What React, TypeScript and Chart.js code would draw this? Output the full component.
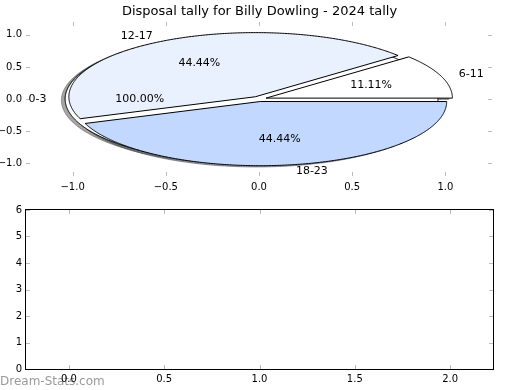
import { useEffect, useRef } from 'react';
import { Chart, registerables } from 'chart.js';

Chart.register(...registerables);

const chartTitle = 'Disposal tally for Billy Dowling - 2024 tally';
// first pie layer (drawn underneath)
const baseLabels = ['0-3'];
const baseValues = [1];
const baseColors = ['#ffffff'];
const baseExplode = [0.04];
// second pie layer
const sliceLabels = ['6-11', '12-17', '18-23'];
const sliceValues = [1, 4, 4];
const sliceColors = ['#ffffff', '#e9f0fe', '#c3d8fe'];
const sliceExplode = [0.04, 0.04, 0.04];

const pieXTicks = [-1, -0.5, 0, 0.5, 1];
const pieYTicks = [-1, -0.5, 0, 0.5, 1];
const lowerXTicks = [0, 0.5, 1, 1.5, 2];
const lowerYTicks = [0, 1, 2, 3, 4, 5, 6];
const watermark = 'Dream-Stats.com';

const FONT = 'DejaVu Sans';
const TICK_COLOR = '#bcbcbc';

type Wedge = {
  t1: number; t2: number; cx: number; cy: number; mid: number;
  color: string; label: string; pct: string;
};

function buildWedges(values: number[], explode: number[], colors: string[], labels: string[]): Wedge[] {
  const total = values.reduce((a, b) => a + b, 0);
  let theta = 0;
  return values.map((v, i) => {
    const frac = v / total;
    const t1 = theta;
    const t2 = theta + 360 * frac;
    theta = t2;
    const mid = ((t1 + t2) / 2) * Math.PI / 180;
    const e = explode[i];
    return {
      t1, t2, mid,
      cx: e * Math.cos(mid), cy: e * Math.sin(mid),
      color: colors[i], label: labels[i],
      pct: (100 * frac).toFixed(2) + '%',
    };
  });
}

function shadowColor(hex: string) {
  const h = hex.replace('#', '');
  const r = parseInt(h.slice(0, 2), 16), g = parseInt(h.slice(2, 4), 16), b = parseInt(h.slice(4, 6), 16);
  return `rgba(${Math.round(r * 0.3)},${Math.round(g * 0.3)},${Math.round(b * 0.3)},0.5)`;
}

function tracePath(ctx: CanvasRenderingContext2D, xs: any, ys: any, w: Wedge, dx = 0, dy = 0) {
  const px = (x: number) => xs.getPixelForValue(x);
  const py = (y: number) => ys.getPixelForValue(y);
  const cx = w.cx + dx, cy = w.cy + dy;
  const full = w.t2 - w.t1 >= 359.999;
  const n = Math.max(2, Math.ceil((w.t2 - w.t1) / 0.5));
  ctx.beginPath();
  if (!full) ctx.moveTo(px(cx), py(cy));
  for (let k = 0; k <= n; k++) {
    const a = (w.t1 + (w.t2 - w.t1) * k / n) * Math.PI / 180;
    const X = px(cx + Math.cos(a)), Y = py(cy + Math.sin(a));
    if (full && k === 0) ctx.moveTo(X, Y); else ctx.lineTo(X, Y);
  }
  ctx.closePath();
}

const fmtNum = (v: number) => v.toFixed(1).replace('-', '\u2212');

function innerTicks(chart: any, xTicks: number[], yTicks: number[]) {
  const { ctx, chartArea: a } = chart;
  const xs = chart.scales.x, ys = chart.scales.y;
  ctx.save();
  ctx.strokeStyle = TICK_COLOR;
  ctx.lineWidth = 1;
  ctx.beginPath();
  xTicks.forEach((v) => {
    const x = Math.round(xs.getPixelForValue(v)) + 0.5;
    ctx.moveTo(x, a.top); ctx.lineTo(x, a.top + 4);
    ctx.moveTo(x, a.bottom); ctx.lineTo(x, a.bottom - 4);
  });
  yTicks.forEach((v) => {
    const y = Math.round(ys.getPixelForValue(v)) + 0.5;
    ctx.moveTo(a.left, y); ctx.lineTo(a.left + 4, y);
    ctx.moveTo(a.right, y); ctx.lineTo(a.right - 4, y);
  });
  ctx.stroke();
  ctx.restore();
}

const piePlugin = {
  id: 'piePlugin',
  afterDraw(chart: any) {
    const { ctx } = chart;
    const xs = chart.scales.x, ys = chart.scales.y;
    // title
    ctx.save();
    ctx.fillStyle = '#000000';
    ctx.font = `13px "${FONT}"`;
    ctx.textAlign = 'center';
    ctx.textBaseline = 'alphabetic';
    ctx.fillText(chartTitle, (chart.chartArea.left + chart.chartArea.right) / 2 + 0.5, 15);
    ctx.restore();
    innerTicks(chart, pieXTicks, pieYTicks);
    const base = buildWedges(baseValues, baseExplode, baseColors, baseLabels);
    const slices = buildWedges(sliceValues, sliceExplode, sliceColors, sliceLabels);
    const all = [...base, ...slices];
    ctx.save();
    // shadows (below every wedge)
    all.forEach((w) => {
      tracePath(ctx, xs, ys, w, -0.02, -0.02);
      ctx.fillStyle = shadowColor(w.color);
      ctx.strokeStyle = shadowColor(w.color);
      ctx.lineWidth = 1;
      ctx.fill();
      ctx.stroke();
    });
    // wedges
    all.forEach((w) => {
      tracePath(ctx, xs, ys, w);
      ctx.fillStyle = w.color;
      ctx.fill();
      ctx.strokeStyle = '#000000';
      ctx.lineWidth = 1;
      ctx.stroke();
    });
    // labels
    ctx.fillStyle = '#000000';
    ctx.font = `11px "${FONT}"`;
    ctx.textBaseline = 'middle';
    all.forEach((w) => {
      const e = Math.hypot(w.cx, w.cy);
      const lx = (1.1 + e) * Math.cos(w.mid), ly = (1.1 + e) * Math.sin(w.mid);
      ctx.textAlign = lx > 0 ? 'left' : 'right';
      ctx.fillText(w.label, xs.getPixelForValue(lx), ys.getPixelForValue(ly));
      const tx = (0.6 + e) * Math.cos(w.mid), ty = (0.6 + e) * Math.sin(w.mid);
      ctx.textAlign = 'center';
      ctx.fillText(w.pct, xs.getPixelForValue(tx), ys.getPixelForValue(ty));
    });
    ctx.restore();
  },
};

const lowerPlugin = {
  id: 'lowerPlugin',
  beforeDraw(chart: any) {
    const { ctx } = chart;
    ctx.save();
    ctx.fillStyle = '#9a9a9a';
    ctx.font = `12px "${FONT}"`;
    ctx.textAlign = 'left';
    ctx.textBaseline = 'alphabetic';
    ctx.fillText(watermark, 0, chart.height - 5);
    ctx.restore();
  },
  afterDraw(chart: any) {
    const { ctx, chartArea: a } = chart;
    innerTicks(chart, lowerXTicks, lowerYTicks);
    ctx.save();
    ctx.strokeStyle = '#000000';
    ctx.lineWidth = 1;
    ctx.strokeRect(Math.round(a.left) - 0.5, Math.round(a.top) - 0.5, Math.round(a.right - a.left) + 1, Math.round(a.bottom - a.top) + 1);
    ctx.restore();
  },
};

const tickFont = { family: FONT, size: 10 };

export default function App() {
  const topRef = useRef<HTMLCanvasElement>(null);
  const botRef = useRef<HTMLCanvasElement>(null);

  useEffect(() => {
    const top = new Chart(topRef.current!, {
      type: 'scatter',
      data: { datasets: [{ data: [] }] },
      plugins: [piePlugin],
      options: {
        animation: false,
        responsive: false,
        devicePixelRatio: 1,
        layout: { padding: { top: 22, left: 0, right: 28, bottom: 0 } },
        plugins: {
          legend: { display: false },
          tooltip: { enabled: false },
          title: { display: false },
        },
        scales: {
          x: {
            type: 'linear', min: -1.25, max: 1.25,
            grid: { display: false, drawTicks: false },
            border: { display: false },
            afterBuildTicks: (s: any) => { s.ticks = pieXTicks.map((v) => ({ value: v })); },
            afterFit: (s: any) => { s.height = 24; },
            ticks: { color: '#000', font: tickFont, padding: 5, maxRotation: 0, autoSkip: false, callback: (v: any) => fmtNum(Number(v)) },
          },
          y: {
            type: 'linear', min: -1.2, max: 1.2,
            grid: { display: false, drawTicks: false },
            border: { display: false },
            afterBuildTicks: (s: any) => { s.ticks = pieYTicks.map((v) => ({ value: v })); },
            afterFit: (s: any) => { s.width = 26; },
            ticks: { color: '#000', font: tickFont, padding: 4, autoSkip: false, callback: (v: any) => fmtNum(Number(v)) },
          },
        },
      },
    } as any);

    const bottom = new Chart(botRef.current!, {
      type: 'scatter',
      data: { datasets: [{ data: [] }] },
      plugins: [lowerPlugin],
      options: {
        animation: false,
        responsive: false,
        devicePixelRatio: 1,
        layout: { padding: { top: 15, left: 0, right: 27, bottom: 0 } },
        plugins: { legend: { display: false }, tooltip: { enabled: false } },
        scales: {
          x: {
            type: 'linear', min: -0.225, max: 2.225,
            grid: { display: false, drawTicks: false },
            border: { display: false },
            afterBuildTicks: (s: any) => { s.ticks = lowerXTicks.map((v) => ({ value: v })); },
            afterFit: (s: any) => { s.height = 21; },
            ticks: { color: '#000', font: tickFont, padding: 4, maxRotation: 0, autoSkip: false, callback: (v: any) => fmtNum(Number(v)) },
          },
          y: {
            type: 'linear', min: 0, max: 6,
            grid: { display: false, drawTicks: false },
            border: { display: false },
            afterBuildTicks: (s: any) => { s.ticks = lowerYTicks.map((v) => ({ value: v })); },
            afterFit: (s: any) => { s.width = 26; },
            ticks: { color: '#000', font: tickFont, padding: 4, autoSkip: false, callback: (v: any) => String(v) },
          },
        },
      },
    } as any);

    return () => { top.destroy(); bottom.destroy(); };
  }, []);

  return (
    <div style={{ position: 'fixed', left: 0, top: 0, width: 520, height: 390, background: '#fff' }}>
      <canvas ref={topRef} width={520} height={200} style={{ position: 'absolute', left: 0, top: 0, width: 520, height: 200 }} />
      <canvas ref={botRef} width={520} height={195} style={{ position: 'absolute', left: 0, top: 195, width: 520, height: 195 }} />
    </div>
  );
}
